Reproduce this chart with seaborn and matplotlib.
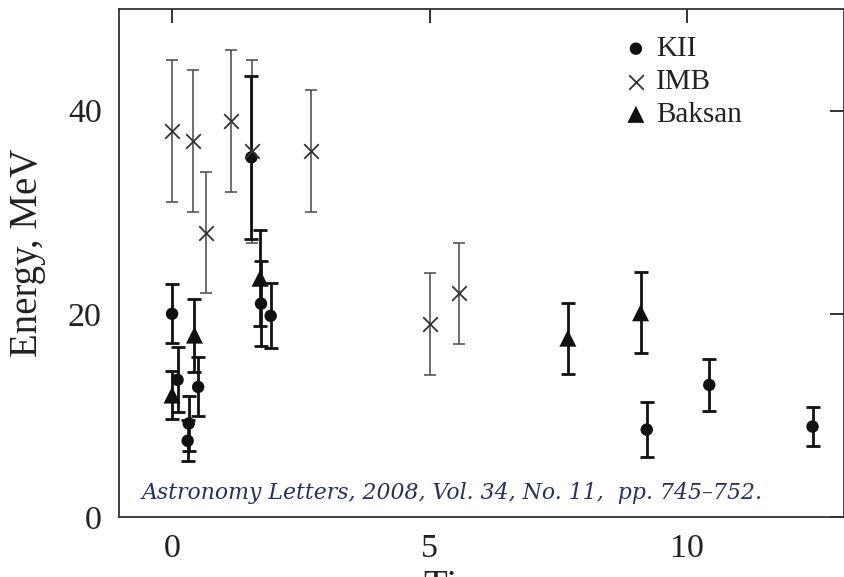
import matplotlib
matplotlib.use("Agg")
import matplotlib.pyplot as plt
import seaborn as sns
import pandas as pd

# SN1987A neutrino events: arrival time (s), energy (MeV), energy error (MeV)
kii_t = [0.0, 0.107, 0.303, 0.324, 0.507, 1.541, 1.728, 1.915, 9.219, 10.433, 12.439]
kii_e = [20.0, 13.5, 7.5, 9.2, 12.8, 35.4, 21.0, 19.8, 8.6, 13.0, 8.9]
kii_err = [2.9, 3.2, 2.0, 2.7, 2.9, 8.0, 4.2, 3.2, 2.7, 2.6, 1.9]

imb_t = [0.0, 0.41, 0.65, 1.14, 1.56, 2.69, 5.01, 5.58]
imb_e = [38, 37, 28, 39, 36, 36, 19, 22]
imb_err = [7, 7, 6, 7, 9, 6, 5, 5]

baksan_t = [0.0, 0.435, 1.710, 7.687, 9.099]
baksan_e = [12.0, 17.9, 23.5, 17.6, 20.1]
baksan_err = [2.4, 3.6, 4.7, 3.5, 4.0]

x_ticks = [0, 5, 10]
y_ticks = [0, 20, 40]

sns.set_style("white")
plt.rcParams["font.family"] = ["Liberation Serif", "DejaVu Serif"]

fig = plt.figure(figsize=(8.44, 5.77), dpi=100)
ax = fig.add_axes([118.5 / 844, 60 / 577, (844 - 118.5) / 844, 508 / 577])

imb = pd.DataFrame({"t": imb_t, "e": imb_e})
kii = pd.DataFrame({"t": kii_t, "e": kii_e})
bak = pd.DataFrame({"t": baksan_t, "e": baksan_e})

# error bars
ax.errorbar(imb_t, imb_e, yerr=imb_err, fmt="none", ecolor="#555555",
            elinewidth=1.2, capsize=4.6, capthick=1.2, zorder=1)
ax.errorbar(kii_t, kii_e, yerr=kii_err, fmt="none", ecolor="#111111",
            elinewidth=2.0, capsize=5.0, capthick=2.0, zorder=2)
ax.errorbar(baksan_t, baksan_e, yerr=baksan_err, fmt="none", ecolor="#111111",
            elinewidth=2.0, capsize=5.0, capthick=2.0, zorder=2)

# markers
sns.scatterplot(data=kii, x="t", y="e", marker="o", s=80, color="#111111",
                edgecolor="none", label="KII", ax=ax, zorder=3)
sns.scatterplot(data=imb, x="t", y="e", marker="x", s=110, color="#333333",
                linewidth=1.3, label="IMB", ax=ax, zorder=3)
sns.scatterplot(data=bak, x="t", y="e", marker="^", s=150, color="#111111",
                edgecolor="none", label="Baksan", ax=ax, zorder=3)

ax.set_xlim(-1.04, 13.05)
ax.set_ylim(0, 50)
ax.set_xticks(x_ticks)
ax.set_yticks(y_ticks)
ax.tick_params(direction="in", length=10, width=1.3, color="#222222",
               labelsize=24.5, top=True, right=True, pad=12)
for sp in ax.spines.values():
    sp.set_linewidth(1.3)
    sp.set_color("#333333")
    sp.set_visible(True)

ax.set_xlabel("Time, s", fontsize=28, labelpad=3, color="#222222")
ax.set_ylabel("Energy, MeV", fontsize=28, color="#222222")
ax.yaxis.set_label_coords(-0.100, 0.52)
for lbl in ax.get_xticklabels() + ax.get_yticklabels():
    lbl.set_color("#222222")

leg = ax.legend(loc="upper left", bbox_to_anchor=(0.681, 0.97), frameon=False,
                fontsize=21, handlelength=0.8, handletextpad=0.3,
                labelspacing=0.22, borderaxespad=0)
for txt in leg.get_texts():
    txt.set_color("#222222")

ax.text(0.032, 0.025,
        "Astronomy Letters, 2008, Vol. 34, No. 11,  pp. 745\u2013752.",
        transform=ax.transAxes, fontsize=15.8, style="italic",
        color="#25325e", family=["DejaVu Serif"], ha="left", va="bottom")

fig.savefig("out.png", dpi=100)
